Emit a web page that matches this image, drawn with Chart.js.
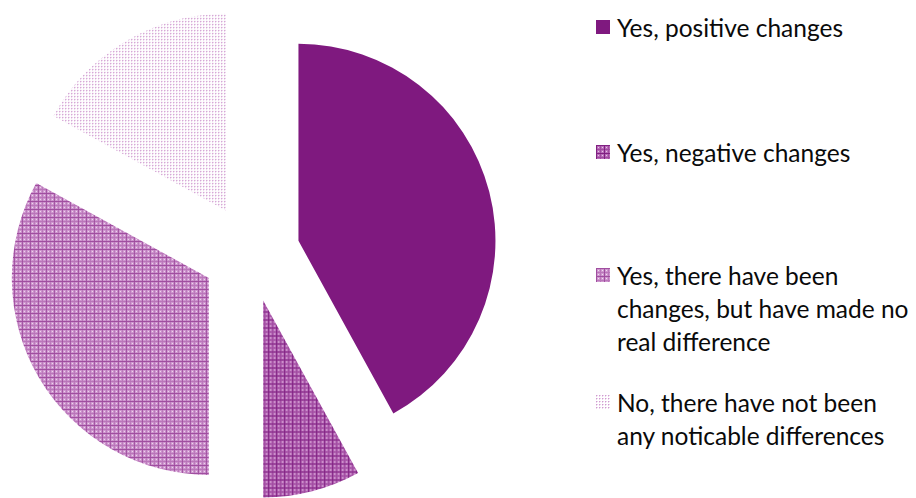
<!DOCTYPE html>
<html lang="en">
<head>
  <meta charset="UTF-8" />
  <title>Changes pie</title>
  <script src="https://cdn.jsdelivr.net/npm/chart.js"></script>
  <style>
    body {
      margin: 0;
      padding: 0;
      background: #fff;
      width: 916px;
      height: 498px;
      overflow: hidden;
      position: relative;
      font-family: Lato, "Open Sans", sans-serif;
    }
    .pie-box {
      position: absolute;
      left: 0;
      top: 0;
      width: 502px;
      height: 498px;
    }
    .legend-item {
      position: absolute;
      left: 596px;
      white-space: nowrap;
      font-size: 24.5px;
      line-height: 33px;
      color: #0a0a0a;
    }
    .legend-item .swatch {
      position: absolute;
      left: 0;
      top: 9px;
      width: 14px;
      height: 14px;
    }
    .legend-item .text {
      margin-left: 21px;
    }
  </style>
</head>
<body>
  <div class="pie-box"><canvas id="pieChart"></canvas></div>
  <div id="legend"></div>

  <script>
    const labels = [
      ['Yes, positive changes'],
      ['Yes, negative changes'],
      ['Yes, there have been', 'changes, but have made no', 'real difference'],
      ['No, there have not been', 'any noticable differences']
    ];
    const shares = [42, 8, 33, 17];
    const legendTops = [11, 136, 259, 386];

    const EXPLODE = 49;

    // small pixel tiles used as fill patterns
    function makeTile(size, base, pixels) {
      const c = document.createElement('canvas');
      c.width = size;
      c.height = size;
      const g = c.getContext('2d');
      g.fillStyle = base;
      g.fillRect(0, 0, size, size);
      pixels.forEach(([x, y, w, h, col]) => {
        g.fillStyle = col;
        g.fillRect(x, y, w, h);
      });
      return c;
    }

    const tiles = [
      makeTile(8, '#7f197f', []),
      makeTile(8, 'rgb(184,108,184)', [
        [0, 4, 8, 1, 'rgb(160,74,160)'], [4, 0, 1, 8, 'rgb(160,74,160)'],
        [0, 0, 8, 1, 'rgb(128,32,130)'], [0, 0, 1, 8, 'rgb(128,32,130)'],
        [2, 2, 1, 1, 'rgb(232,198,232)'], [6, 2, 1, 1, 'rgb(232,198,232)'],
        [2, 6, 1, 1, 'rgb(232,198,232)'], [6, 6, 1, 1, 'rgb(232,198,232)']
      ]),
      makeTile(8, 'rgb(206,150,206)', [
        [0, 4, 8, 1, 'rgb(186,118,186)'], [4, 0, 1, 8, 'rgb(186,118,186)'],
        [0, 0, 8, 1, 'rgb(160,78,160)'], [0, 0, 1, 8, 'rgb(160,78,160)'],
        [2, 2, 1, 1, 'rgb(242,220,242)'], [6, 2, 1, 1, 'rgb(242,220,242)'],
        [2, 6, 1, 1, 'rgb(242,220,242)'], [6, 6, 1, 1, 'rgb(242,220,242)']
      ]),
      makeTile(3, '#ffffff', [
        [0, 0, 1, 1, 'rgb(208,156,208)'],
        [1, 0, 1, 1, 'rgb(236,212,236)'], [0, 1, 1, 1, 'rgb(236,212,236)']
      ])
    ];

    const ctx = document.getElementById('pieChart').getContext('2d');
    const fills = tiles.map(t => ctx.createPattern(t, 'repeat'));

    // draw each slice pushed out along its middle angle
    const explodePlugin = {
      id: 'explode',
      beforeDatasetDraw(chart, args) {
        const c = chart.ctx;
        args.meta.data.forEach(arc => {
          const mid = (arc.startAngle + arc.endAngle) / 2;
          c.save();
          c.translate(Math.cos(mid) * EXPLODE, Math.sin(mid) * EXPLODE);
          arc.draw(c, chart.chartArea);
          c.restore();
        });
        return false;
      }
    };

    new Chart(ctx, {
      type: 'pie',
      data: {
        labels: labels,
        datasets: [{
          data: shares,
          backgroundColor: fills,
          borderWidth: 0
        }]
      },
      options: {
        responsive: true,
        maintainAspectRatio: false,
        animation: false,
        layout: { padding: { top: 56, bottom: 48 } },
        plugins: {
          legend: { display: false },
          tooltip: { enabled: false }
        }
      },
      plugins: [explodePlugin]
    });

    const legend = document.getElementById('legend');
    labels.forEach((lines, i) => {
      const item = document.createElement('div');
      item.className = 'legend-item';
      item.style.top = legendTops[i] + 'px';
      const sw = document.createElement('span');
      sw.className = 'swatch';
      sw.style.backgroundImage = 'url(' + tiles[i].toDataURL() + ')';
      const tx = document.createElement('div');
      tx.className = 'text';
      tx.innerHTML = lines.join('<br>');
      item.appendChild(sw);
      item.appendChild(tx);
      legend.appendChild(item);
    });
  </script>
</body>
</html>
